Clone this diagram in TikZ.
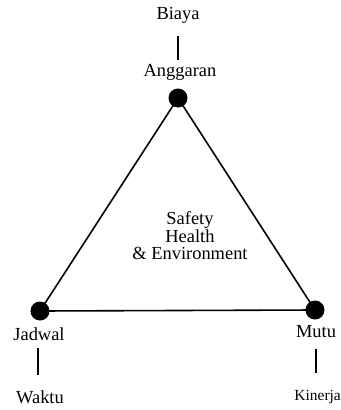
\documentclass[tikz,border=0pt]{standalone}
\usepackage{fontspec}
\setmainfont{Liberation Serif}
\begin{document}
\begin{tikzpicture}[x=1bp,y=-1bp,
  lbl/.style={inner sep=0pt,font=\fontsize{18.5}{17.5}\selectfont},
  dot/.style={circle,fill=black,inner sep=0pt,minimum size=19bp},
  edge/.style={line width=1.6bp},
  tick/.style={line width=1.4bp}]
\useasboundingbox (0,0) rectangle (341,410);
\node[dot] (A) at (178,98) {};
\node[dot] (J) at (40,311) {};
\node[dot] (M) at (315,310) {};
\draw[edge] (A.center) -- (J.center) -- (M.center) -- cycle;
\node[lbl] (biaya) at (178,15) {Biaya};
\node[lbl] (angg) at (180,72) {Anggaran};
\coordinate (b1) at (178,36); \coordinate (b2) at (178,60);
\draw[tick] (b1) -- (b2);
\node[lbl] (jadwal) at (39,334) {Jadwal};
\node[lbl] (waktu) at (40,397) {Waktu};
\coordinate (j1) at (38,348); \coordinate (j2) at (38,375);
\draw[tick] (j1) -- (j2);
\node[lbl] (mutu) at (316,332) {Mutu};
\node[lbl,anchor=east,font=\fontsize{15.5}{16}\selectfont] (kinerja) at (341,397) {Kinerja};
\coordinate (m1) at (316,349); \coordinate (m2) at (316,373);
\draw[tick] (m1) -- (m2);
\node[lbl,align=center] (she) at (190,236) {Safety\\Health\\\& Environment};
\end{tikzpicture}
\end{document}
